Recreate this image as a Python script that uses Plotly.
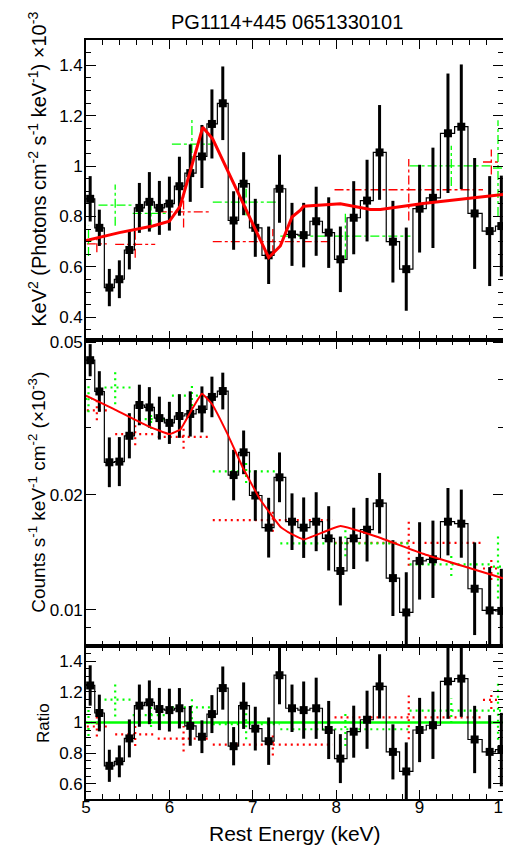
import numpy as np
import plotly.graph_objects as go
from plotly.subplots import make_subplots

# ---------------- data ----------------
energy = [5.05, 5.16, 5.28, 5.40, 5.52, 5.64, 5.76, 5.88, 6.00, 6.12, 6.25, 6.39,
          6.51, 6.64, 6.77, 6.89, 7.03, 7.19, 7.32, 7.47, 7.61, 7.76, 7.91, 8.05,
          8.21, 8.37, 8.52, 8.68, 8.84, 9.00, 9.16, 9.34, 9.50, 9.66, 9.84, 9.98]

eeuf = [0.870, 0.755, 0.518, 0.551, 0.667, 0.834, 0.858, 0.834, 0.851, 0.920, 0.972, 1.038,
        1.167, 1.249, 0.784, 0.930, 0.755, 0.646, 0.910, 0.729, 0.726, 0.781, 0.736, 0.630,
        0.795, 0.863, 1.054, 0.700, 0.591, 0.831, 0.874, 1.130, 1.156, 0.812, 0.742, 0.762]
eeuf_err = [0.090, 0.072, 0.074, 0.075, 0.077, 0.099, 0.118, 0.107, 0.107, 0.117, 0.114, 0.125,
            0.137, 0.146, 0.116, 0.125, 0.115, 0.114, 0.135, 0.125, 0.128, 0.137, 0.140, 0.130,
            0.145, 0.162, 0.188, 0.162, 0.165, 0.174, 0.199, 0.237, 0.247, 0.220, 0.218, 0.200]

counts = [0.0449, 0.0372, 0.0243, 0.0244, 0.0285, 0.0343, 0.0338, 0.0317, 0.0308, 0.0321, 0.0325, 0.0334,
          0.0360, 0.0373, 0.0225, 0.0258, 0.0199, 0.0164, 0.0222, 0.0170, 0.0164, 0.0170, 0.01538, 0.01264,
          0.01538, 0.0162, 0.0190, 0.01211, 0.00985, 0.01343, 0.01356, 0.0170, 0.0168, 0.01136, 0.00997, 0.00994]
counts_err_dex = [0.042, 0.053, 0.065, 0.064, 0.059, 0.053, 0.053, 0.056, 0.055, 0.057, 0.059, 0.060,
                  0.053, 0.048, 0.066, 0.057, 0.066, 0.078, 0.065, 0.074, 0.079, 0.077, 0.084, 0.090,
                  0.080, 0.083, 0.079, 0.099, 0.105, 0.101, 0.101, 0.088, 0.089, 0.121, 0.113, 0.110]

ratio = [1.242, 1.062, 0.717, 0.746, 0.896, 1.110, 1.132, 1.088, 1.081, 1.093, 0.978, 0.907,
         1.055, 1.225, 0.845, 1.110, 0.960, 0.878, 1.309, 1.093, 1.081, 1.093, 0.951, 0.764,
         0.940, 1.018, 1.236, 0.808, 0.680, 0.951, 0.982, 1.269, 1.287, 0.889, 0.808, 0.823]
ratio_err = [0.132, 0.120, 0.105, 0.104, 0.124, 0.138, 0.143, 0.138, 0.140, 0.132, 0.130, 0.107,
             0.124, 0.141, 0.125, 0.152, 0.143, 0.155, 0.190, 0.155, 0.187, 0.200, 0.190, 0.160,
             0.170, 0.190, 0.210, 0.180, 0.190, 0.210, 0.220, 0.245, 0.250, 0.220, 0.240, 0.240]

# model curves
model_top_E = [5.0, 5.4, 5.8, 6.0, 6.13, 6.25, 6.40, 6.52, 7.19, 7.33, 7.47, 7.57, 7.61,
               8.05, 8.41, 8.53, 9.04, 10.0]
model_top = [0.705, 0.736, 0.762, 0.781, 0.841, 0.985, 1.154, 1.107, 0.637, 0.683, 0.798,
             0.825, 0.841, 0.850, 0.828, 0.828, 0.851, 0.887]
model_mid_E = [5.0, 5.33, 5.73, 6.0, 6.13, 6.26, 6.39, 6.51, 6.69, 6.89, 7.09, 7.33, 7.45,
               7.61, 8.05, 8.49, 9.04, 10.0]
model_mid = [0.0363, 0.0335, 0.0303, 0.0288, 0.0296, 0.0331, 0.0367, 0.0345, 0.0290, 0.0233,
             0.0194, 0.0165, 0.01584, 0.01528, 0.01657, 0.01553, 0.01402, 0.01210]

# other detectors (red / green crosses)
red_E = [5.13, 5.59, 6.17, 7.24, 8.87, 9.86]
red_hw = [0.12, 0.24, 0.31, 0.72, 0.89, 0.10]
red_top = [0.691, 0.689, 0.818, 0.700, 0.906, 1.016]
red_top_err = [0.033, 0.053, 0.062, 0.050, 0.122, 0.050]
red_mid = [0.0332, 0.0288, 0.0283, 0.01716, 0.01497, 0.01283]
red_mid_err_dex = [0.026, 0.029, 0.031, 0.030, 0.060, 0.030]
red_ratio = [0.974, 0.923, 0.894, 0.856, 1.033, 1.148]
red_ratio_err = [0.066, 0.077, 0.083, 0.072, 0.143, 0.060]

green_E = [5.03, 5.35, 5.78, 6.27, 6.92, 8.11, 9.38, 9.94]
green_hw = [0.04, 0.20, 0.22, 0.24, 0.40, 0.78, 0.50, 0.06]
green_top = [0.703, 0.845, 0.812, 1.087, 0.857, 0.722, 1.001, 0.992]
green_top_err = [0.060, 0.082, 0.060, 0.107, 0.053, 0.089, 0.080, 0.190]
green_mid = [0.0356, 0.0381, 0.0315, 0.0363, 0.0230, 0.01493, 0.01315, 0.01297]
green_mid_err_dex = [0.035, 0.044, 0.026, 0.027, 0.030, 0.034, 0.030, 0.083]
green_ratio = [1.000, 1.150, 1.048, 1.099, 0.990, 0.956, 1.077, 1.077]
green_ratio_err = [0.088, 0.110, 0.077, 0.077, 0.100, 0.110, 0.080, 0.190]

RED = "#ff0000"
GREEN = "#00ff00"
FONT = "Liberation Sans, Arial, Helvetica, sans-serif"

# ---------------- helpers ----------------
def cross_xy(cx, hw, y, lo, hi):
    xs, ys = [], []
    for c, w, v, l, h in zip(cx, hw, y, lo, hi):
        xs += [c - w, c + w, None, c, c, None]
        ys += [v, v, None, l, h, None]
    return xs, ys

def step_xy(cx, vals):
    c = np.array(cx)
    mids = (c[:-1] + c[1:]) / 2
    edges = np.concatenate([[c[0] - (mids[0] - c[0])], mids, [c[-1] + (c[-1] - mids[-1])]])
    ys = list(vals) + [vals[-1]]
    return edges, ys

fig = make_subplots(rows=3, cols=1, shared_xaxes=True, vertical_spacing=0,
                    row_heights=[300, 306, 153])

# ---------- top panel ----------
for cx, hw, y, e, col in [(red_E, red_hw, red_top, red_top_err, RED),
                          (green_E, green_hw, green_top, green_top_err, GREEN)]:
    lo = [a - b for a, b in zip(y, e)]
    hi = [a + b for a, b in zip(y, e)]
    xs, ys = cross_xy(cx, hw, y, lo, hi)
    fig.add_trace(go.Scatter(x=xs, y=ys, mode="lines",
                             line=dict(color=col, width=1.3, dash="dashdot"),
                             hoverinfo="skip", showlegend=False), row=1, col=1)

sx, sy = step_xy(energy, eeuf)
fig.add_trace(go.Scatter(x=sx, y=sy, mode="lines", line=dict(color="black", width=1.2, shape="hv"),
                         showlegend=False, hoverinfo="skip"), row=1, col=1)
fig.add_trace(go.Scatter(x=energy, y=eeuf, mode="markers",
                         marker=dict(symbol="square", size=8, color="black"),
                         error_y=dict(type="data", array=eeuf_err, color="black", thickness=3, width=0),
                         showlegend=False), row=1, col=1)
fig.add_trace(go.Scatter(x=model_top_E, y=model_top, mode="lines",
                         line=dict(color=RED, width=3),
                         showlegend=False), row=1, col=1)

# ---------- middle panel ----------
for cx, hw, y, e, col in [(red_E, red_hw, red_mid, red_mid_err_dex, RED),
                          (green_E, green_hw, green_mid, green_mid_err_dex, GREEN)]:
    lo = [a / 10 ** b for a, b in zip(y, e)]
    hi = [a * 10 ** b for a, b in zip(y, e)]
    xs, ys = cross_xy(cx, hw, y, lo, hi)
    fig.add_trace(go.Scatter(x=xs, y=ys, mode="lines",
                             line=dict(color=col, width=2.2, dash="2px,4px"),
                             hoverinfo="skip", showlegend=False), row=2, col=1)

sx, sy = step_xy(energy, counts)
fig.add_trace(go.Scatter(x=sx, y=sy, mode="lines", line=dict(color="black", width=1.2, shape="hv"),
                         showlegend=False, hoverinfo="skip"), row=2, col=1)
c_arr = np.array(counts)
e_arr = np.array(counts_err_dex)
fig.add_trace(go.Scatter(x=energy, y=counts, mode="markers",
                         marker=dict(symbol="square", size=8, color="black"),
                         error_y=dict(type="data", symmetric=False,
                                      array=list(c_arr * 10 ** e_arr - c_arr),
                                      arrayminus=list(c_arr - c_arr / 10 ** e_arr),
                                      color="black", thickness=3, width=0),
                         showlegend=False), row=2, col=1)
fig.add_trace(go.Scatter(x=model_mid_E, y=model_mid, mode="lines",
                         line=dict(color=RED, width=2, shape="spline", smoothing=0.3),
                         showlegend=False), row=2, col=1)

# ---------- ratio panel ----------
for cx, hw, y, e, col in [(red_E, red_hw, red_ratio, red_ratio_err, RED),
                          (green_E, green_hw, green_ratio, green_ratio_err, GREEN)]:
    lo = [a - b for a, b in zip(y, e)]
    hi = [a + b for a, b in zip(y, e)]
    xs, ys = cross_xy(cx, hw, y, lo, hi)
    fig.add_trace(go.Scatter(x=xs, y=ys, mode="lines",
                             line=dict(color=col, width=2.2, dash="2px,4px"),
                             hoverinfo="skip", showlegend=False), row=3, col=1)

fig.add_trace(go.Scatter(x=[5, 10], y=[1, 1], mode="lines", line=dict(color=GREEN, width=2.5),
                         showlegend=False, hoverinfo="skip"), row=3, col=1)
sx, sy = step_xy(energy, ratio)
fig.add_trace(go.Scatter(x=sx, y=sy, mode="lines", line=dict(color="black", width=1.2, shape="hv"),
                         showlegend=False, hoverinfo="skip"), row=3, col=1)
fig.add_trace(go.Scatter(x=energy, y=ratio, mode="markers",
                         marker=dict(symbol="square", size=8, color="black"),
                         error_y=dict(type="data", array=ratio_err, color="black", thickness=3, width=0),
                         showlegend=False), row=3, col=1)

# ---------------- axes ----------------
axis_common = dict(showline=True, linecolor="black", linewidth=1.6, mirror="allticks",
                   ticks="inside", tickcolor="black", tickwidth=1.2, showgrid=False,
                   zeroline=False, automargin=False, ticklabeloverflow="allow",
                   tickfont=dict(family=FONT, size=17, color="black"))

for r in (1, 2, 3):
    fig.update_xaxes(range=[5, 10], tickmode="linear", tick0=5, dtick=1, ticklen=9,
                     ticklabelstandoff=-8,
                     minor=dict(ticks="inside", dtick=0.2, tick0=5, ticklen=5, tickcolor="black"),
                     showticklabels=(r == 3), row=r, col=1, **axis_common)

fig.update_yaxes(range=[0.31, 1.5], tickmode="linear", tick0=0, dtick=0.2, ticklen=10,
                 ticklabelstandoff=-2,
                 minor=dict(ticks="inside", dtick=0.05, tick0=0, ticklen=5, tickcolor="black"),
                 row=1, col=1, **axis_common)
fig.update_yaxes(type="log", range=[np.log10(0.00805), np.log10(0.0507)],
                 tickmode="array", tickvals=[0.01, 0.02, 0.05], ticktext=["0.01", "0.02", "0.05"],
                 ticklen=10, ticklabelstandoff=-2,
                 minor=dict(ticks="inside", tickmode="array", tickvals=[0.009, 0.03, 0.04],
                            ticklen=5, tickcolor="black"),
                 row=2, col=1, **axis_common)
fig.update_yaxes(range=[0.5, 1.5], tickmode="linear", tick0=0, dtick=0.2, ticklen=10,
                 ticklabelstandoff=-2,
                 minor=dict(ticks="inside", dtick=0.05, tick0=0, ticklen=5, tickcolor="black"),
                 row=3, col=1, **axis_common)

annots = [
    dict(text="PG1114+445 0651330101", x=0.482, y=1.0237, size=20, angle=0),
    dict(text="Rest Energy (keV)", x=0.501, y=-0.0448, size=21, angle=0),
    dict(text="KeV<sup>2</sup> (Photons cm<sup>-2</sup> s<sup>-1</sup> keV<sup>-1</sup>) ×10<sup>-3</sup>",
         x=-0.118, y=0.8300, size=20, angle=-90),
    dict(text="Counts s<sup>-1</sup> keV<sup>-1</sup> cm<sup>-2</sup> (×10<sup>-3</sup>)",
         x=-0.118, y=0.4045, size=19, angle=-90),
    dict(text="Ratio", x=-0.103, y=0.1001, size=17, angle=-90),
]
for a in annots:
    fig.add_annotation(text=a["text"], x=a["x"], y=a["y"], xref="paper", yref="paper",
                       xanchor="center", yanchor="middle", showarrow=False, textangle=a["angle"],
                       font=dict(family=FONT, size=a["size"], color="black"))

# page body has an 8px default margin; size the figure so the plot area lands
# at x 86..503, y 40..799 of the 511x866 window
fig.update_layout(width=503, height=858, margin=dict(l=78, r=8, t=32, b=67, autoexpand=False),
                  paper_bgcolor="white", plot_bgcolor="white", showlegend=False)

fig.write_html("out.html")
